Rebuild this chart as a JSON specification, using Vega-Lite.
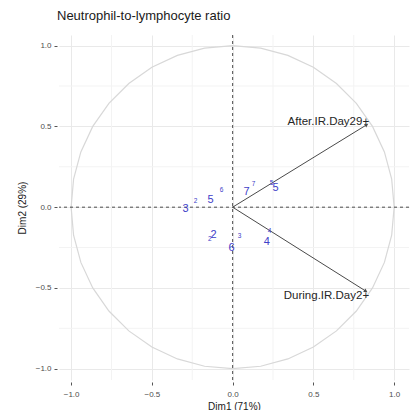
{
  "$schema": "https://vega.github.io/schema/vega-lite/v6.json",
  "width": 350,
  "height": 345,
  "autosize": {"type": "none"},
  "padding": {"left": 59, "top": 35, "right": 3, "bottom": 30},
  "background": "white",
  "config": {"view": {"stroke": null}, "font": "Liberation Sans"},
  "title": {
    "text": "Neutrophil-to-lymphocyte ratio",
    "anchor": "start",
    "frame": "group",
    "fontSize": 13,
    "fontWeight": "normal",
    "color": "#1a1a1a",
    "offset": 12,
    "dx": -2
  },
  "layer": [
    {
      "description": "Minor grid lines between the labelled ticks",
      "data": {"values": [{"v": -0.75}, {"v": -0.25}, {"v": 0.25}, {"v": 0.75}]},
      "layer": [
        {
          "mark": {"type": "rule", "color": "#f3f3f3", "strokeWidth": 1},
          "encoding": {"x": {"field": "v", "type": "quantitative"}}
        },
        {
          "mark": {"type": "rule", "color": "#f3f3f3", "strokeWidth": 1},
          "encoding": {"y": {"field": "v", "type": "quantitative"}}
        }
      ]
    },
    {
      "description": "Correlation circle of radius 1",
      "data": {
        "values": [
          {"i": 0, "cx": 1, "cy": 0},
          {"i": 1, "cx": 0.9848, "cy": 0.1736},
          {"i": 2, "cx": 0.9397, "cy": 0.342},
          {"i": 3, "cx": 0.866, "cy": 0.5},
          {"i": 4, "cx": 0.766, "cy": 0.6428},
          {"i": 5, "cx": 0.6428, "cy": 0.766},
          {"i": 6, "cx": 0.5, "cy": 0.866},
          {"i": 7, "cx": 0.342, "cy": 0.9397},
          {"i": 8, "cx": 0.1736, "cy": 0.9848},
          {"i": 9, "cx": 0, "cy": 1},
          {"i": 10, "cx": -0.1736, "cy": 0.9848},
          {"i": 11, "cx": -0.342, "cy": 0.9397},
          {"i": 12, "cx": -0.5, "cy": 0.866},
          {"i": 13, "cx": -0.6428, "cy": 0.766},
          {"i": 14, "cx": -0.766, "cy": 0.6428},
          {"i": 15, "cx": -0.866, "cy": 0.5},
          {"i": 16, "cx": -0.9397, "cy": 0.342},
          {"i": 17, "cx": -0.9848, "cy": 0.1736},
          {"i": 18, "cx": -1, "cy": 0},
          {"i": 19, "cx": -0.9848, "cy": -0.1736},
          {"i": 20, "cx": -0.9397, "cy": -0.342},
          {"i": 21, "cx": -0.866, "cy": -0.5},
          {"i": 22, "cx": -0.766, "cy": -0.6428},
          {"i": 23, "cx": -0.6428, "cy": -0.766},
          {"i": 24, "cx": -0.5, "cy": -0.866},
          {"i": 25, "cx": -0.342, "cy": -0.9397},
          {"i": 26, "cx": -0.1736, "cy": -0.9848},
          {"i": 27, "cx": 0, "cy": -1},
          {"i": 28, "cx": 0.1736, "cy": -0.9848},
          {"i": 29, "cx": 0.342, "cy": -0.9397},
          {"i": 30, "cx": 0.5, "cy": -0.866},
          {"i": 31, "cx": 0.6428, "cy": -0.766},
          {"i": 32, "cx": 0.766, "cy": -0.6428},
          {"i": 33, "cx": 0.866, "cy": -0.5},
          {"i": 34, "cx": 0.9397, "cy": -0.342},
          {"i": 35, "cx": 0.9848, "cy": -0.1736},
          {"i": 36, "cx": 1, "cy": 0}
        ]
      },
      "mark": {"type": "line", "color": "#d8d8d8", "strokeWidth": 1.2},
      "encoding": {
        "order": {"field": "i", "type": "quantitative"},
        "x": {
          "field": "cx",
          "type": "quantitative",
          "scale": {"domain": [-1.075, 1.092], "nice": false, "zero": false},
          "axis": {
            "title": "Dim1 (71%)",
            "values": [-1, -0.5, 0, 0.5, 1],
            "format": ".1f",
            "grid": true,
            "gridColor": "#e9e9e9",
            "domain": false,
            "offset": 2,
            "tickSize": 3,
            "tickColor": "#555555",
            "labelPadding": 5,
            "labelFontSize": 8,
            "labelColor": "#4d4d4d",
            "titleFontSize": 10,
            "titleFontWeight": "normal",
            "titleColor": "#1a1a1a",
            "titlePadding": 3
          }
        },
        "y": {
          "field": "cy",
          "type": "quantitative",
          "scale": {"domain": [-1.07, 1.066], "nice": false, "zero": false},
          "axis": {
            "title": "Dim2 (29%)",
            "values": [-1, -0.5, 0, 0.5, 1],
            "format": ".1f",
            "grid": true,
            "gridColor": "#e9e9e9",
            "domain": false,
            "offset": 2,
            "tickSize": 3,
            "tickColor": "#555555",
            "labelPadding": 3,
            "labelFontSize": 8,
            "labelColor": "#4d4d4d",
            "titleFontSize": 10,
            "titleFontWeight": "normal",
            "titleColor": "#1a1a1a",
            "titlePadding": 8
          }
        }
      }
    },
    {
      "description": "Dashed reference lines through the origin",
      "data": {"values": [{"z": 0}]},
      "layer": [
        {
          "mark": {"type": "rule", "color": "#222222", "strokeWidth": 0.8, "strokeDash": [3, 3]},
          "encoding": {"x": {"field": "z", "type": "quantitative"}}
        },
        {
          "mark": {"type": "rule", "color": "#222222", "strokeWidth": 0.8, "strokeDash": [3, 3]},
          "encoding": {"y": {"field": "z", "type": "quantitative"}}
        }
      ]
    },
    {
      "description": "Variable loadings drawn as arrows from the origin",
      "data": {
        "values": [
          {"variable": "After.IR.Day29+", "x": 0.83, "y": 0.51, "lx": 0.845, "ly": 0.527},
          {"variable": "During.IR.Day2+", "x": 0.825, "y": -0.52, "lx": 0.845, "ly": -0.547}
        ]
      },
      "transform": [{"calculate": "-atan2(datum.y, datum.x) * 180 / PI", "as": "heading"}],
      "layer": [
        {
          "mark": {"type": "rule", "color": "#4a4a4a", "strokeWidth": 1},
          "encoding": {
            "x": {"field": "x", "type": "quantitative"},
            "y": {"field": "y", "type": "quantitative"},
            "x2": {"datum": 0},
            "y2": {"datum": 0}
          }
        },
        {
          "mark": {"type": "point", "shape": "triangle-right", "filled": true, "size": 18, "color": "#4a4a4a", "opacity": 1},
          "encoding": {
            "x": {"field": "x", "type": "quantitative"},
            "y": {"field": "y", "type": "quantitative"},
            "angle": {"field": "heading", "type": "quantitative", "scale": null}
          }
        },
        {
          "mark": {"type": "text", "align": "right", "baseline": "middle", "fontSize": 11.5, "color": "#262626"},
          "encoding": {
            "x": {"field": "lx", "type": "quantitative"},
            "y": {"field": "ly", "type": "quantitative"},
            "text": {"field": "variable"}
          }
        }
      ]
    },
    {
      "description": "Individuals projected on the first two dimensions",
      "data": {
        "values": [
          {"label": "3", "x": -0.291, "y": -0.012, "kind": "label"},
          {"label": "5", "x": -0.136, "y": 0.043, "kind": "label"},
          {"label": "7", "x": 0.087, "y": 0.093, "kind": "label"},
          {"label": "5", "x": 0.266, "y": 0.118, "kind": "label"},
          {"label": "2", "x": -0.118, "y": -0.173, "kind": "label"},
          {"label": "6", "x": -0.006, "y": -0.254, "kind": "label"},
          {"label": "4", "x": 0.211, "y": -0.217, "kind": "label"},
          {"label": "2", "x": -0.229, "y": 0.037, "kind": "point"},
          {"label": "6", "x": -0.068, "y": 0.105, "kind": "point"},
          {"label": "7", "x": 0.13, "y": 0.142, "kind": "point"},
          {"label": "5", "x": 0.241, "y": 0.149, "kind": "point"},
          {"label": "2", "x": -0.142, "y": -0.198, "kind": "point"},
          {"label": "3", "x": 0.043, "y": -0.18, "kind": "point"},
          {"label": "4", "x": 0.229, "y": -0.149, "kind": "point"}
        ]
      },
      "mark": {"type": "text", "align": "center", "baseline": "middle", "color": "#4040c8"},
      "encoding": {
        "x": {"field": "x", "type": "quantitative"},
        "y": {"field": "y", "type": "quantitative"},
        "text": {"field": "label"},
        "size": {
          "field": "kind",
          "type": "nominal",
          "scale": {"domain": ["label", "point"], "range": [11, 6.5]},
          "legend": null
        }
      }
    }
  ]
}
